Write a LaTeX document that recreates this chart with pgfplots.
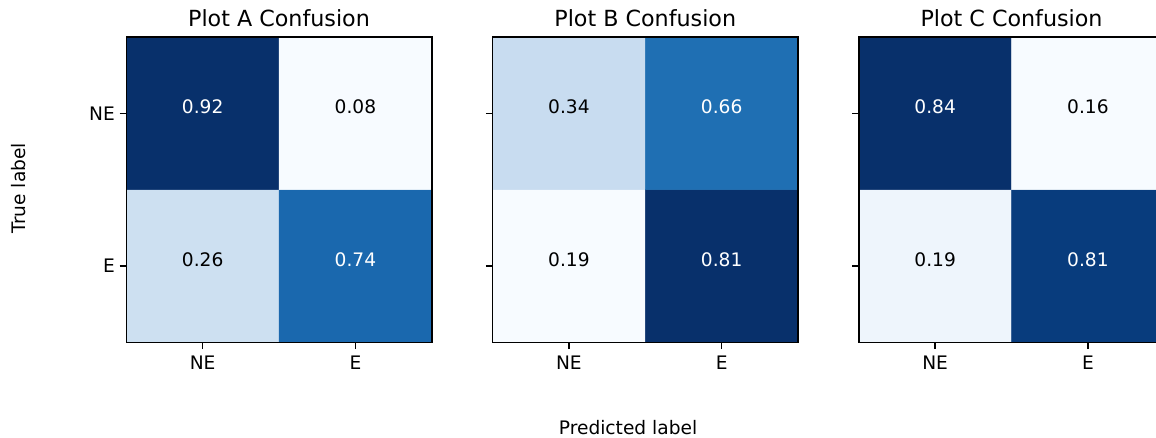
\documentclass[border=0pt]{standalone}
\usepackage{fontspec}
\setmainfont{DejaVu Sans}
\usepackage{pgfplots}
\pgfplotsset{compat=1.18}
\usepackage{pgfplotstable}

\pgfplotsset{colormap={blues}{rgb255=(247,251,255) rgb255=(222,235,247) rgb255=(198,219,239) rgb255=(158,202,225) rgb255=(107,174,214) rgb255=(66,146,198) rgb255=(33,113,181) rgb255=(8,81,156) rgb255=(8,48,107)}}

% rows: y=0 is E (bottom), y=1 is NE (top); w=1 means white text
\pgfplotstableread{
x y v s w
0 0 0.26 0.26 0
1 0 0.74 0.74 1
0 1 0.92 0.92 1
1 1 0.08 0.08 0
}\dataA
\pgfplotstableread{
x y v s w
0 0 0.19 0.19 0
1 0 0.81 0.81 1
0 1 0.34 0.34 0
1 1 0.66 0.66 1
}\dataB
\pgfplotstableread{
x y v s w
0 0 0.19 0.19 0
1 0 0.81 0.81 1
0 1 0.84 0.84 1
1 1 0.16 0.16 0
}\dataC

\pgfplotsset{
  cm/.style={
    scale only axis, width=220pt, height=220pt,
    anchor=south west,
    xmin=-0.5, xmax=1.5, ymin=-0.5, ymax=1.5,
    enlargelimits=false,
    xtick={0,1}, ytick={0,1}, xticklabels={NE,E},
    xtick pos=bottom, ytick pos=left,
    tick align=outside, major tick length=4.7pt,
    every tick/.style={black, line width=1.07pt},
    axis line style={black, line width=1.07pt},
    ticklabel style={font=\fontsize{13.4}{16}\selectfont, text=black},
    xticklabel style={yshift=-1.5pt},
    every axis title/.style={at={(0.5,1)}, anchor=base, yshift=7.7pt, font=\fontsize{16}{19}\selectfont},
    colormap name=blues,
    axis on top,
  },
  cells/.style={matrix plot*, mesh/cols=2, point meta=explicit},
  vals/.style={only marks, mark=none, point meta=explicit symbolic,
    visualization depends on={\thisrow{w} \as \isw},
    nodes near coords={\ifdim\isw pt>0.5pt\color{white}\else\color{black}\fi\pgfplotspointmeta},
    nodes near coords align=center,
    every node near coord/.append style={font=\fontsize{13.4}{16}\selectfont, anchor=base}},
}

\begin{document}
\begin{tikzpicture}[x=1pt,y=1pt]
\useasboundingbox (0,0) rectangle (832.32,315.36);

\begin{axis}[cm, at={(90.9pt,68.76pt)}, title={Plot A Confusion}, yticklabels={E,NE}]
\addplot[cells] table[x=x,y=y,meta=v]{\dataA};
\addplot[vals] table[x=x,y=y,meta=s]{\dataA};
\end{axis}

\begin{axis}[cm, at={(354.6pt,68.76pt)}, title={Plot B Confusion}, yticklabels={}]
\addplot[cells] table[x=x,y=y,meta=v]{\dataB};
\addplot[vals] table[x=x,y=y,meta=s]{\dataB};
\end{axis}

\begin{axis}[cm, at={(618.3pt,68.76pt)}, title={Plot C Confusion}, yticklabels={}]
\addplot[cells] table[x=x,y=y,meta=v]{\dataC};
\addplot[vals] table[x=x,y=y,meta=s]{\dataC};
\end{axis}

\node[rotate=90, anchor=base, font=\fontsize{13.4}{16}\selectfont] at (18.72,179.8) {True label};
\node[anchor=base, font=\fontsize{13.4}{16}\selectfont] at (452.2,2.66) {Predicted label};
\end{tikzpicture}
\end{document}
